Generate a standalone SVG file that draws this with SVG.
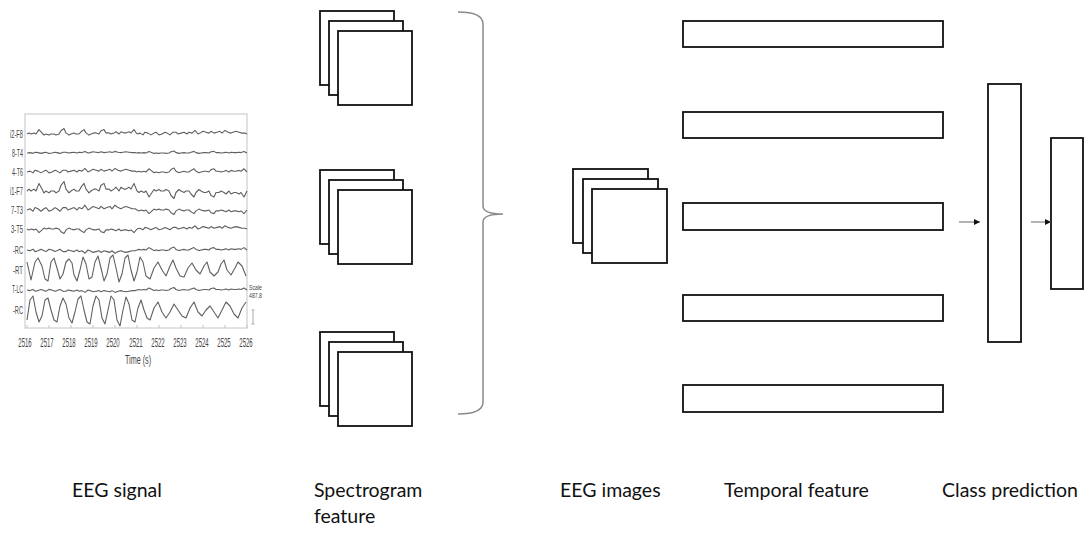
<svg xmlns="http://www.w3.org/2000/svg" xmlns:xlink="http://www.w3.org/1999/xlink" width="1085" height="535" viewBox="0 0 1085 535">
<style>
.box{fill:#fff;stroke:#111;stroke-width:1.8}
.lbl{font-family:Lato,"Open Sans","Liberation Sans",sans-serif;font-size:19.5px;fill:#111}
.tr{fill:none;stroke:#606060;stroke-width:1.1;stroke-linejoin:round}
.nz{vector-effect:non-scaling-stroke}
.ax{font-family:"Liberation Sans",Arial,sans-serif;fill:#444}
.frame{fill:none;stroke:#c4c4c4;stroke-width:1}
.brace{fill:none;stroke:#8a8a8a;stroke-width:1.5}
.conn{stroke:#666;stroke-width:1;fill:none}
</style>
<defs>
<path id="n1" class="tr nz" d="M0,0 l3,-1 3,2 2,-3 3,1 3,2 3,-2 2,-1 3,3 3,-1 3,-2 2,1 3,2 3,-3 3,0 2,2 3,-1 3,-1 3,2 2,-2 3,1 3,-3 3,4 2,-1 3,-2 3,1 3,1 2,-2 3,2 3,-1 3,-1 2,2 3,-3 3,2 3,1 2,-1 3,-1 3,1 3,1 3,0 2,1"/>
<path id="n2" class="tr nz" d="M0,0 l2,-1 2,1 3,-1 2,1 3,-4 2,2 3,3 2,-1 3,1 2,-1 3,0 2,1 3,-1 2,-3 3,-2 2,4 3,2 2,-1 3,-1 2,1 3,0 2,-2 3,-2 2,3 3,2 2,-1 3,-1 2,0 3,1 2,-3 3,-1 2,3 3,0 2,1 3,-1 2,-1 3,2 2,-2 3,1 2,0 3,-1 2,1 3,-3 3,4"/>
<marker id="ah" viewBox="0 0 10 10" refX="10" refY="5" markerWidth="6" markerHeight="6" orient="auto" markerUnits="userSpaceOnUse"><path d="M0,0 L10,5 L0,10 z" fill="#111"/></marker>
</defs>

<g id="eeg-signal">
<rect class="frame" x="25" y="114" width="222" height="214"/>
<g stroke="#c4c4c4" stroke-width="1">
<path d="M27,328v-3M49,328v-3M71,328v-3M93,328v-3M115,328v-3M137,328v-3M159,328v-3M181,328v-3M203,328v-3M225,328v-3M247,328v-3"/>
</g>
<use xlink:href="#n2" transform="translate(27,134) scale(1,1.1)"/>
<use xlink:href="#n1" transform="translate(137,134) scale(1,0.9)"/>
<use xlink:href="#n1" transform="translate(27,153) scale(1,0.4)"/>
<use xlink:href="#n2" transform="translate(137,153) scale(1,0.4)"/>
<use xlink:href="#n1" transform="translate(27,172) scale(1,0.9)"/>
<use xlink:href="#n2" transform="translate(137,172) scale(1,0.8)"/>
<use xlink:href="#n2" transform="translate(27,191) scale(1,1.9)"/>
<use xlink:href="#n2" transform="translate(137,191) scale(1,-1.5)"/>
<use xlink:href="#n1" transform="translate(27,210) scale(1,1.2)"/>
<use xlink:href="#n2" transform="translate(137,210) scale(1,-0.9)"/>
<use xlink:href="#n2" transform="translate(27,229) scale(1,-0.9)"/>
<use xlink:href="#n1" transform="translate(137,229) scale(1,0.8)"/>
<use xlink:href="#n1" transform="translate(27,250) scale(1,-0.8)"/>
<use xlink:href="#n2" transform="translate(137,250) scale(1,0.6)"/>
<polyline class="tr" points="27,262 31,280 35,262 38,258 42,266 45,279 48,281 51,262 54,258 57,268 60,279 63,274 66,262 69,259 72,263 74,275 77,281 80,270 83,257 86,264 89,279 92,277 95,262 98,256 101,268 104,281 107,274 110,258 113,255 116,268 119,282 122,274 125,258 128,255 131,270 134,281 137,272 140,257 143,262 146,276 150,279 154,268 158,262 162,270 166,276 170,266 173,260 176,268 180,276 184,277 188,268 192,263 196,270 200,274 204,266 207,262 210,272 214,276 218,272 221,264 224,260 227,270 231,275 235,268 238,262 242,266 246,276"/>
<use xlink:href="#n1" transform="translate(27,290) scale(1,-0.6)"/>
<use xlink:href="#n2" transform="translate(137,290) scale(1,0.5)"/>
<polyline class="tr" points="27,320 30,300 33,296 36,312 39,322 42,316 45,300 48,298 51,310 54,320 57,322 60,306 63,298 66,304 69,318 72,323 75,312 78,299 81,296 84,310 87,322 90,324 93,306 96,296 99,300 102,318 105,324 108,310 111,296 114,300 117,320 120,326 123,310 126,297 129,304 132,320 135,322 138,308 141,300 144,310 147,318 150,320 154,308 158,302 162,312 166,318 170,312 174,304 178,310 182,316 186,318 190,308 194,302 198,312 202,316 206,310 210,306 214,312 218,318 222,310 226,302 230,306 234,314 238,318 242,308 246,302"/>
<g class="ax" font-size="10" text-anchor="end">
<text x="23" y="137.5" textLength="13" lengthAdjust="spacingAndGlyphs">i2-F8</text>
<text x="23" y="156.5" textLength="11" lengthAdjust="spacingAndGlyphs">8-T4</text>
<text x="23" y="175.5" textLength="11" lengthAdjust="spacingAndGlyphs">4-T6</text>
<text x="23" y="194.5" textLength="13" lengthAdjust="spacingAndGlyphs">i1-F7</text>
<text x="23" y="213.5" textLength="12" lengthAdjust="spacingAndGlyphs">7-T3</text>
<text x="23" y="232.5" textLength="12" lengthAdjust="spacingAndGlyphs">3-T5</text>
<text x="23" y="253.5" textLength="10" lengthAdjust="spacingAndGlyphs">-RC</text>
<text x="23" y="273.5" textLength="10" lengthAdjust="spacingAndGlyphs">-RT</text>
<text x="23" y="292.5" textLength="11" lengthAdjust="spacingAndGlyphs">T-LC</text>
<text x="23" y="313.5" textLength="10" lengthAdjust="spacingAndGlyphs">-RC</text>
</g>
<g class="ax" font-size="12" text-anchor="middle">
<text transform="translate(25,347) scale(0.5,1)">2516</text>
<text transform="translate(47,347) scale(0.5,1)">2517</text>
<text transform="translate(69,347) scale(0.5,1)">2518</text>
<text transform="translate(91,347) scale(0.5,1)">2519</text>
<text transform="translate(113,347) scale(0.5,1)">2520</text>
<text transform="translate(136,347) scale(0.5,1)">2521</text>
<text transform="translate(158,347) scale(0.5,1)">2522</text>
<text transform="translate(180,347) scale(0.5,1)">2523</text>
<text transform="translate(202,347) scale(0.5,1)">2524</text>
<text transform="translate(224,347) scale(0.5,1)">2525</text>
<text transform="translate(246,347) scale(0.5,1)">2526</text>
<text transform="translate(138,364) scale(0.6,1)">Time (s)</text>
</g>
<g class="ax" font-size="7">
<text x="249" y="290" textLength="13" lengthAdjust="spacingAndGlyphs">Scale</text>
<text x="249" y="298" textLength="13" lengthAdjust="spacingAndGlyphs">487.8</text>
</g>
<path d="M253,310v14M251.5,310h3M251.5,324h3" stroke="#aaa" stroke-width="1" fill="none"/>
</g>

<g id="spectrogram-1">
<rect class="box" x="320" y="11" width="74" height="74"/>
<rect class="box" x="329" y="21" width="74" height="74"/>
<rect class="box" x="338" y="31" width="74" height="74"/>
</g>
<g id="spectrogram-2">
<rect class="box" x="320" y="170" width="74" height="74"/>
<rect class="box" x="329" y="180" width="74" height="74"/>
<rect class="box" x="338" y="190" width="74" height="74"/>
</g>
<g id="spectrogram-3">
<rect class="box" x="320" y="332" width="74" height="74"/>
<rect class="box" x="329" y="342" width="74" height="74"/>
<rect class="box" x="338" y="352" width="74" height="74"/>
</g>

<g id="brace">
<path class="brace" d="M458,12 Q483,12 483,24 L483,206 Q483,214 503,214 Q483,214 483,222 L483,402 Q483,414 458,414"/>
</g>

<g id="eeg-images">
<rect class="box" x="573" y="169" width="75" height="74"/>
<rect class="box" x="583" y="179" width="75" height="74"/>
<rect class="box" x="592" y="189" width="75" height="74"/>
</g>

<g id="temporal-feature">
<rect class="box" x="683" y="21" width="260" height="26"/>
<rect class="box" x="683" y="112" width="260" height="26"/>
<rect class="box" x="683" y="203" width="260" height="27"/>
<rect class="box" x="683" y="295" width="260" height="26"/>
<rect class="box" x="683" y="385" width="260" height="27"/>
</g>

<g id="dense-layer">
<rect class="box" x="988" y="84" width="33" height="258"/>
</g>
<g id="class-prediction">
<rect class="box" x="1051" y="138" width="32" height="151"/>
</g>

<g id="connectors">
<line class="conn" x1="959" y1="222" x2="980" y2="222" marker-end="url(#ah)"/>
<line class="conn" x1="1031" y1="222" x2="1051" y2="222" marker-end="url(#ah)"/>
</g>

<g id="labels">
<text class="lbl" x="72" y="497">EEG signal</text>
<text class="lbl" x="314" y="497">Spectrogram</text>
<text class="lbl" x="314" y="523">feature</text>
<text class="lbl" x="560" y="497">EEG images</text>
<text class="lbl" x="724" y="497">Temporal feature</text>
<text class="lbl" x="942" y="497">Class prediction</text>
</g>
</svg>
